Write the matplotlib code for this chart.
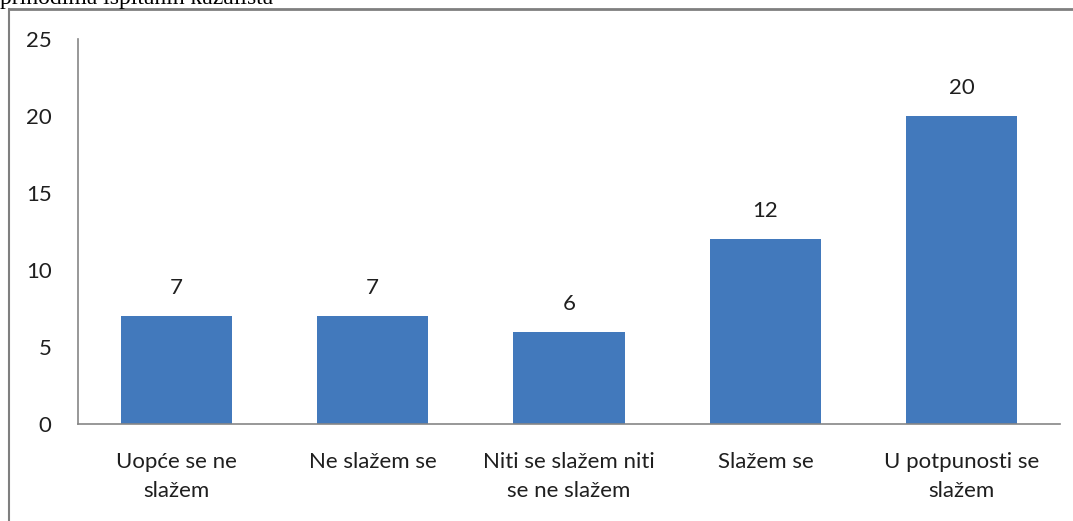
import matplotlib
matplotlib.use("Agg")
import matplotlib.pyplot as plt
from matplotlib.lines import Line2D

categories = [
    "Uopće se ne\nslažem",
    "Ne slažem se",
    "Niti se slažem niti\nse ne slažem",
    "Slažem se",
    "U potpunosti se\nslažem",
]
values = [7, 7, 6, 12, 20]
y_ticks = [0, 5, 10, 15, 20, 25]
caption = "prihodima ispitanih kazališta"

bar_color = "#4279BC"
axis_color = "#868686"
text_color = "#1f1f1f"

plt.rcParams["font.family"] = ["Lato", "DejaVu Sans"]

W, H = 1073, 521
fig = plt.figure(figsize=(W / 100, H / 100), dpi=100)
ax = fig.add_axes([78 / W, 1 - 424 / H, (1060 - 78) / W, (424 - 39) / H])

x = range(len(values))
ax.bar(x, values, width=0.567, color=bar_color, zorder=2)
for xi, v in zip(x, values):
    ax.annotate(str(v), (xi, v), xytext=(0, 13), textcoords="offset points",
                ha="center", va="bottom", fontsize=16, color=text_color)

ax.set_xlim(-0.5, len(values) - 0.5)
ax.set_ylim(0, 25)
ax.set_yticks(y_ticks)
ax.set_yticklabels([str(t) for t in y_ticks], fontsize=16, color=text_color)
ax.set_xticks(list(x))
ax.set_xticklabels(categories, fontsize=16, color=text_color, linespacing=1.55)
ax.tick_params(axis="x", length=0, pad=20)
ax.tick_params(axis="y", length=0, pad=19)

for side in ("top", "right"):
    ax.spines[side].set_visible(False)
for side in ("left", "bottom"):
    ax.spines[side].set_color(axis_color)
    ax.spines[side].set_linewidth(1.2)

# outer frame of the embedded chart
fig.add_artist(Line2D([9 / W, 9 / W], [0, 1 - 9 / H], transform=fig.transFigure,
                      color="#7f7f7f", linewidth=1.5))
fig.add_artist(Line2D([9 / W, 1], [1 - 9 / H, 1 - 9 / H], transform=fig.transFigure,
                      color="#7f7f7f", linewidth=2))

# cut-off caption line from the surrounding document
fig.text(0, 1 - 4 / H, caption, family="Liberation Serif", fontsize=17,
         color="black", va="baseline", ha="left")

fig.savefig("out.png", dpi=100)
